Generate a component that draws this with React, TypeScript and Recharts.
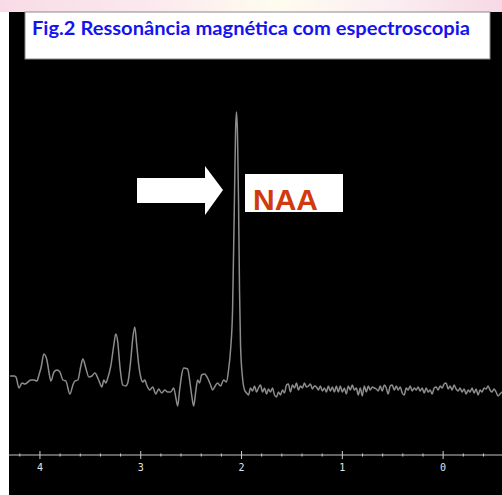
import React from "react";
import { Line, LineChart, XAxis, YAxis } from "recharts";

// chemical shift (ppm), left to right
const ppm = [
  4.297, 4.257, 4.238, 4.208, 4.178, 4.149, 4.119, 4.089, 4.059, 4.03, 4.01, 3.99, 3.96, 3.931, 3.911,
  3.891, 3.861, 3.832, 3.802, 3.772, 3.743, 3.703, 3.673, 3.653, 3.624, 3.594, 3.574, 3.545, 3.515,
  3.485, 3.455, 3.426, 3.406, 3.386, 3.366, 3.347, 3.327, 3.297, 3.267, 3.248, 3.228, 3.208, 3.178,
  3.149, 3.129, 3.099, 3.079, 3.059, 3.04, 3.02, 3.0, 2.98, 2.96, 2.941, 2.911, 2.881, 2.851, 2.822,
  2.792, 2.762, 2.733, 2.703, 2.673, 2.653, 2.634, 2.614, 2.594, 2.574, 2.535, 2.515, 2.495, 2.475,
  2.455, 2.436, 2.416, 2.396, 2.366, 2.337, 2.307, 2.287, 2.267, 2.238, 2.208, 2.178, 2.149, 2.129,
  2.109, 2.089, 2.069, 2.059, 2.05, 2.04, 2.03, 2.02, 2.01, 1.99, 1.97, 1.95, 1.931,
  1.911, 1.891, 1.871, 1.851, 1.832, 1.812, 1.792, 1.772, 1.752, 1.733, 1.713, 1.693, 1.673, 1.653,
  1.634, 1.614, 1.594, 1.574, 1.554, 1.535, 1.515, 1.495, 1.475, 1.455, 1.436, 1.416, 1.396, 1.376,
  1.356, 1.337, 1.317, 1.297, 1.277, 1.257, 1.238, 1.218, 1.198, 1.178, 1.158, 1.139, 1.119, 1.099,
  1.079, 1.059, 1.04, 1.02, 1.0, 0.98, 0.96, 0.941, 0.921, 0.901, 0.881, 0.861, 0.842, 0.822, 0.802,
  0.782, 0.762, 0.743, 0.723, 0.703, 0.683, 0.663, 0.644, 0.624, 0.604, 0.584, 0.564, 0.545, 0.525,
  0.505, 0.485, 0.465, 0.446, 0.426, 0.406, 0.386, 0.366, 0.347, 0.327, 0.307, 0.287, 0.267, 0.248,
  0.228, 0.208, 0.188, 0.168, 0.149, 0.129, 0.109, 0.089, 0.069, 0.05, 0.03, 0.01, -0.01, -0.03,
  -0.05, -0.069, -0.089, -0.109, -0.129, -0.149, -0.168, -0.188, -0.208, -0.228, -0.248, -0.267,
  -0.287, -0.307, -0.327, -0.347, -0.366, -0.386, -0.406, -0.426, -0.446, -0.465, -0.485, -0.505,
  -0.525, -0.545, -0.564, -0.584,
];

// signal amplitude (arbitrary units)
const signal = [
  79, 79, 78, 67, 72, 71, 73, 75, 75, 74, 80, 87, 101, 95, 83,
  74, 83, 85, 83, 75, 74, 61, 70, 74, 75, 89, 96, 87, 78,
  79, 82, 77, 72, 68, 75, 72, 77, 89, 110, 121, 113, 90, 70,
  69, 72, 95, 117, 128, 110, 90, 78, 73, 75, 70, 65, 68, 61, 66,
  62, 65, 63, 63, 67, 58, 49, 65, 80, 87, 86, 75, 60, 49,
  63, 75, 72, 80, 81, 77, 70, 65, 68, 72, 69, 75, 73, 85,
  105, 145, 265, 325, 343, 320, 255, 165, 110, 77, 65, 62, 60,
  67, 64, 69, 63, 67, 70, 63, 67, 61, 66, 63, 67, 60, 58,
  63, 60, 65, 62, 70, 71, 63, 70, 67, 72, 65, 69, 67, 72,
  68, 69, 71, 66, 69, 68, 65, 69, 64, 67, 63, 69, 64, 68,
  63, 69, 63, 69, 63, 67, 61, 69, 65, 70, 65, 67, 60, 67, 59,
  69, 63, 69, 65, 68, 67, 66, 64, 69, 64, 70, 67, 61, 69,
  70, 65, 69, 65, 68, 62, 60, 67, 65, 69, 64, 67, 65, 68,
  64, 67, 62, 67, 63, 65, 61, 67, 68, 65, 69, 67, 71, 72,
  66, 69, 65, 70, 66, 64, 67, 63, 66, 61, 65, 63,
  67, 62, 66, 60, 65, 63, 67, 66, 69, 65, 63, 66,
  63, 59, 61, 63,
];

const ppmTicks = [
  -0.4, -0.2, 0, 0.2, 0.4, 0.6, 0.8, 1, 1.2, 1.4, 1.6, 1.8, 2, 2.2, 2.4, 2.6, 2.8, 3, 3.2, 3.4,
  3.6, 3.8, 4, 4.2,
];

const title = "Fig.2 Ressonância magnética com espectroscopia";
const peakLabel = "NAA";

const data = ppm.map((p, i) => ({ ppm: p, a: signal[i] }));

const SpecTick = (props: any) => {
  const { x, y, payload } = props;
  const v = payload.value;
  const major = Math.abs(v - Math.round(v)) < 1e-6;
  return (
    <g>
      <line
        x1={x}
        x2={x}
        y1={major ? y - 4 : y - 1.5}
        y2={major ? y + 4 : y + 1.5}
        stroke="#cfcfcf"
        strokeWidth={1}
      />
      {major && (
        <text
          x={x}
          y={y + 16}
          textAnchor="middle"
          fontSize={10}
          fontFamily="DejaVu Sans Mono"
          fill="#e4e4e4"
        >
          {Math.round(v)}
        </text>
      )}
    </g>
  );
};

export default function App() {
  return (
    <div
      style={{
        position: "fixed",
        left: 0,
        top: 0,
        width: 502,
        height: 495,
        background: "#ffffff",
        overflow: "hidden",
      }}
    >
      <div
        style={{
          position: "absolute",
          left: 0,
          top: 0,
          width: 502,
          height: 12,
          background:
            "linear-gradient(90deg, #f8dbe6 0%, #fbe9ef 30%, #fffcef 55%, #fbeef3 78%, #f6d9e4 100%)",
        }}
      />
      <div
        style={{
          position: "absolute",
          left: 9,
          top: 12,
          width: 493,
          height: 483,
          background: "#000000",
        }}
      >
        <LineChart width={493} height={483} data={data} margin={{ top: 0, right: 0, left: 0, bottom: 0 }}>
          <XAxis
            dataKey="ppm"
            type="number"
            domain={[-0.584, 4.307]}
            allowDataOverflow
            reversed
            ticks={ppmTicks}
            interval={0}
            height={40}
            tickSize={0}
            tickMargin={0}
            tick={<SpecTick />}
            axisLine={{ stroke: "#c4c4c4", strokeWidth: 1.2 }}
          />
          <YAxis hide type="number" domain={[0, 443]} allowDataOverflow />
          <Line
            type="monotone"
            dataKey="a"
            stroke="#8c8c8c"
            strokeWidth={1.5}
            dot={false}
            isAnimationActive={false}
          />
        </LineChart>
      </div>
      <svg
        width={502}
        height={495}
        style={{ position: "absolute", left: 0, top: 0, pointerEvents: "none" }}
      >
        <rect x={25} y={12} width={465} height={47} fill="#ffffff" stroke="#8a8a8a" strokeWidth={1} />
        <text
          x={32}
          y={35}
          fontFamily="Lato, 'Open Sans', sans-serif"
          fontWeight="bold"
          fontSize={19}
          fill="#1414f0"
          textLength={438}
          lengthAdjust="spacingAndGlyphs"
        >
          {title}
        </text>
        <polygon
          points="137,178 205,178 205,166 223,190 205,215 205,203 137,203"
          fill="#ffffff"
        />
        <rect x={245} y={174} width={98} height={38} fill="#ffffff" />
        <text
          x={253}
          y={210}
          fontFamily="'Liberation Sans', Arial, sans-serif"
          fontWeight="bold"
          fontSize={30}
          fill="#d03a0c"
        >
          {peakLabel}
        </text>
      </svg>
    </div>
  );
}
